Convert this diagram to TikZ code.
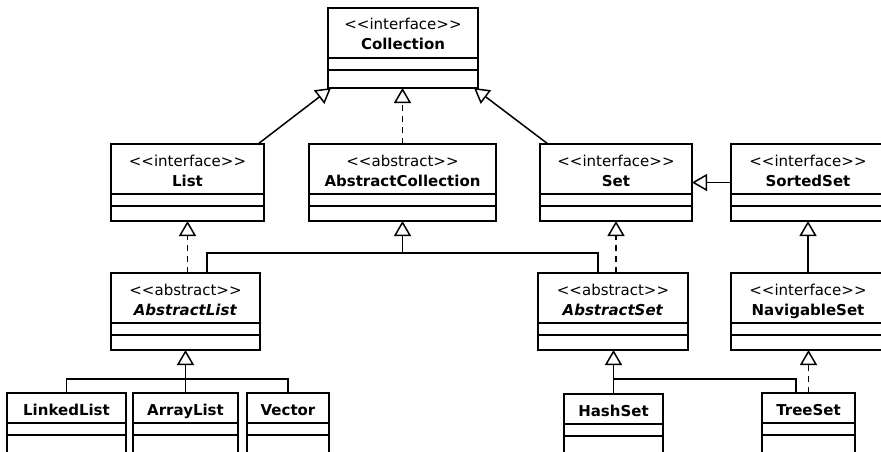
\documentclass[tikz,border=0pt]{standalone}
\usepackage{fontspec}
\newfontfamily\umlfont{DejaVu Sans}
\usepackage{tikz}
\usetikzlibrary{arrows.meta}
\usetikzlibrary{calc}

\newcommand{\stereo}[1]{<\kern0pt<#1>\kern0pt>}
\newcommand{\umlhead}[2]{\begin{tabular}[t]{@{}c@{}}\stereo{#1}\\[2pt]\textbf{#2}\end{tabular}}

\tikzset{
  classbox/.style={draw, line width=2.6pt, inner sep=0pt, outer sep=0pt, anchor=north,
    font=\umlfont\fontsize{15}{18}\selectfont, text height=22pt, text depth=55pt,
    path picture={
      \draw[line width=1.4pt] ([yshift=-#1]path picture bounding box.north west) -- ([yshift=-#1]path picture bounding box.north east);
      \draw[line width=1.4pt] ([yshift=-#1-12pt]path picture bounding box.north west) -- ([yshift=-#1-12pt]path picture bounding box.north east);
    }},
  classbox/.default=50pt,
  leafbox/.style={classbox=30pt, text depth=47pt},
  link/.style={line width=1.5pt},
  inherit/.style={link, -{Triangle[open,length=15pt,width=17pt]}},
  realize/.style={inherit, dash pattern=on 6pt off 5pt},
}

\begin{document}
\begin{tikzpicture}[x=1pt,y=-1pt]
  \useasboundingbox (0,0) rectangle (881,452);
  \clip (0,0) rectangle (881,452);

  % top
  \node[classbox, minimum width=150pt, text depth=58pt] (Collection) at (403,8) {\umlhead{interface}{Collection}};

  % second row
  \node[classbox, minimum width=153pt] (List) at (187.5,144) {\umlhead{interface}{List}};
  \node[classbox, minimum width=187pt] (AbsColl) at (402.5,144) {\umlhead{abstract}{AbstractCollection}};
  \node[classbox, minimum width=152pt] (Set) at (616,144) {\umlhead{interface}{Set}};
  \node[classbox, minimum width=154pt] (SortedSet) at (808,144) {\umlhead{interface}{SortedSet}};

  % third row
  \node[classbox, minimum width=149pt] (AbsList) at (185.5,273) {\umlhead{abstract}{\itshape AbstractList}};
  \node[classbox, minimum width=150pt] (AbsSet) at (613,273) {\umlhead{abstract}{\itshape AbstractSet}};
  \node[classbox, minimum width=154pt] (NavSet) at (808,273) {\umlhead{interface}{NavigableSet}};

  % concrete classes
  \node[leafbox, minimum width=119pt] (LinkedList) at (66.5,393) {\textbf{LinkedList}};
  \node[leafbox, minimum width=105pt] (ArrayList) at (185.5,393) {\textbf{ArrayList}};
  \node[leafbox, minimum width=82pt] (Vector) at (288,393) {\textbf{Vector}};
  \node[leafbox, minimum width=99pt] (HashSet) at (613.5,394) {\textbf{HashSet}};
  \node[leafbox, minimum width=93pt] (TreeSet) at (808.5,393) {\textbf{TreeSet}};

  % generalisations
  \draw[inherit] ([xshift=-6pt]List.north east) -- ([xshift=3pt]Collection.south west);
  \draw[inherit] ([xshift=8pt]Set.north west) -- ([xshift=-4pt]Collection.south east);
  \draw[realize] (AbsColl.north) -- (AbsColl.north |- Collection.south);
  \draw[inherit] (SortedSet.west) -- (Set.east);
  \draw[inherit] (NavSet.north) -- (SortedSet.south);

  \draw[realize] (List.south |- AbsList.north) -- (List.south);
  \coordinate (acjoin) at (AbsColl.south |- 0,253);
  \draw[inherit] ([xshift=21.5pt]AbsList.north) |- (acjoin) -- (AbsColl.south);
  \draw[link] ([xshift=-15pt]AbsSet.north) |- (acjoin);
  \draw[realize] (Set.south |- AbsSet.north) -- (Set.south);

  \draw[inherit] (ArrayList.north) -- (AbsList.south);
  \draw[link] (LinkedList.north) |- (ArrayList.north |- 0,379) -| (Vector.north);
  \draw[inherit] (HashSet.north) -- (HashSet.north |- AbsSet.south);
  \draw[link] ([xshift=-12.5pt]TreeSet.north) |- (HashSet.north |- 0,379);
  \draw[realize] (TreeSet.north) -- (TreeSet.north |- NavSet.south);
\end{tikzpicture}
\end{document}
